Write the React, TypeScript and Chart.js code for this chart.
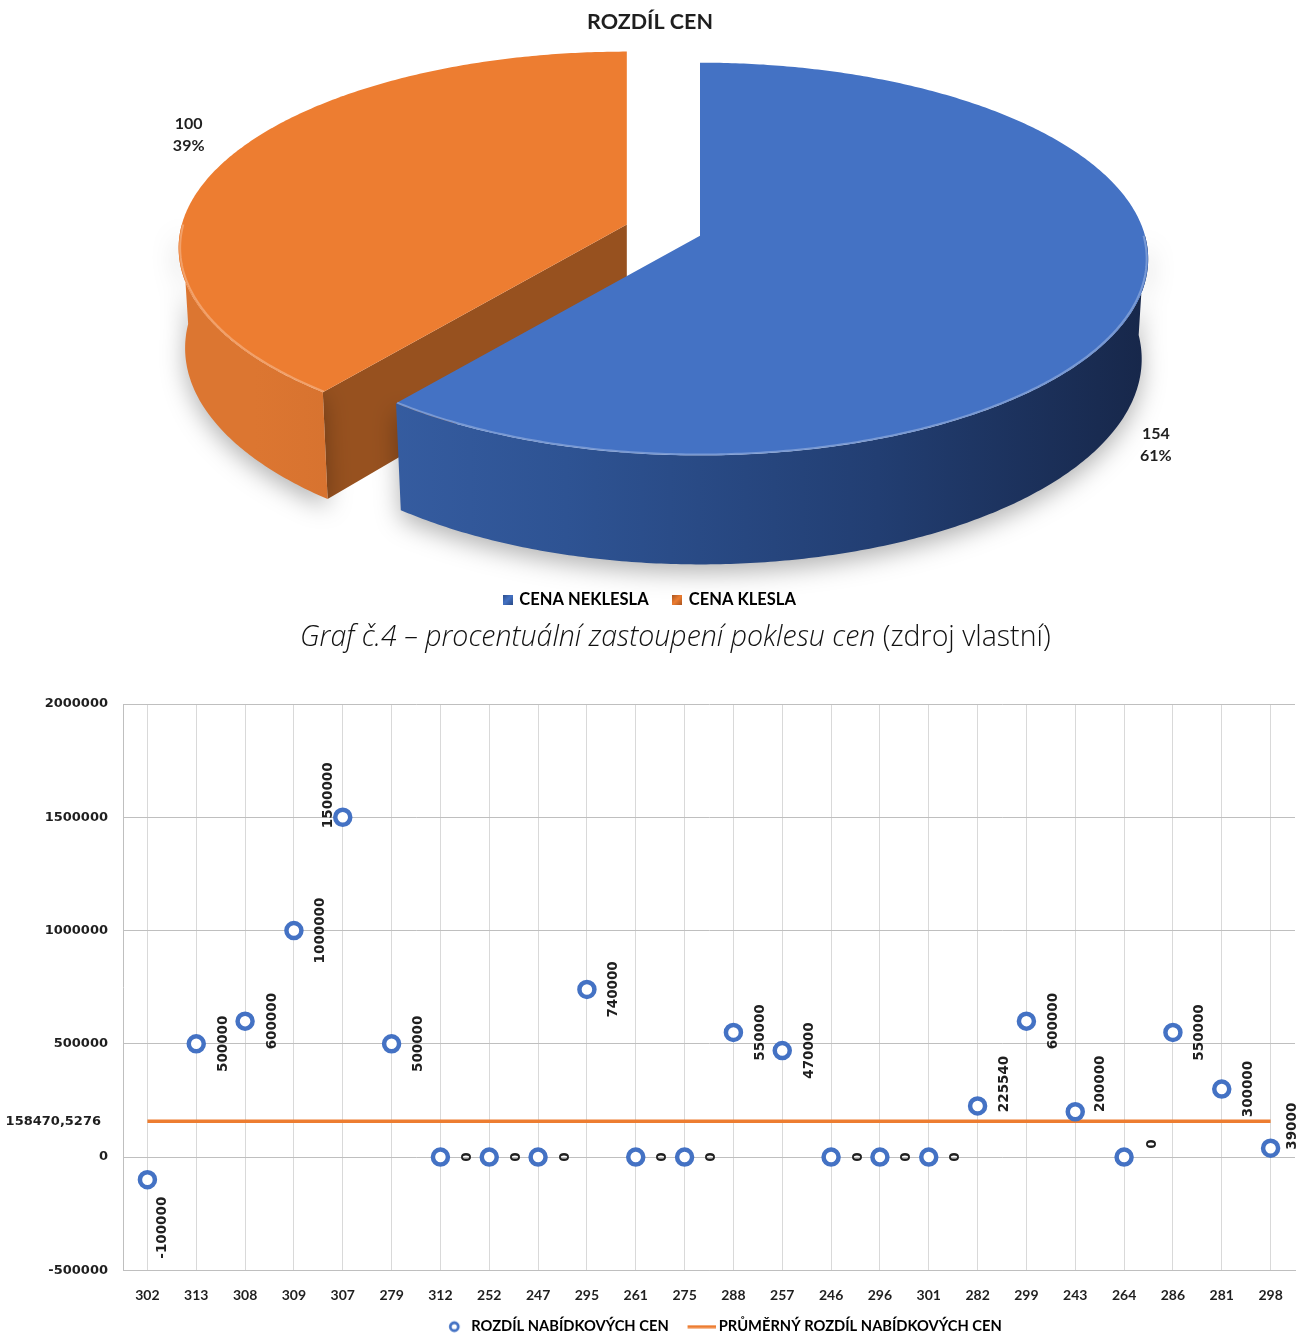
import React, { useEffect, useRef } from "react";
import { Chart, registerables } from "chart.js";

Chart.register(...registerables);

// ---- Pie: offers where the price did / did not drop ----
const PIE_TITLE = "ROZDÍL CEN";
const PIE_LABELS = ["CENA NEKLESLA", "CENA KLESLA"];
const PIE_VALUES = [154, 100];
const PIE_COLORS = ["#4472C4", "#ED7D31"];
const PIE_EXPLODE = [0, 78];

// ---- Scatter: difference of offered prices per tender ----
const TENDER_IDS = [
  "302", "313", "308", "309", "307", "279", "312", "252", "247", "295", "261", "275",
  "288", "257", "246", "296", "301", "282", "299", "243", "264", "286", "281", "298",
];
const PRICE_DIFF = [
  -100000, 500000, 600000, 1000000, 1500000, 500000, 0, 0, 0, 740000, 0, 0,
  550000, 470000, 0, 0, 0, 225540, 600000, 200000, 0, 550000, 300000, 39000,
];
const AVERAGE_DIFF = 158470.5276;
const Y_TICKS = [-500000, 0, 500000, 1000000, 1500000, 2000000];
const SERIES_NAMES = ["ROZDÍL NABÍDKOVÝCH CEN", "PRŮMĚRNÝ ROZDÍL NABÍDKOVÝCH CEN"];

const CAPTION_ITALIC = "Graf č.4 – procentuální zastoupení poklesu cen";
const CAPTION_PLAIN = "(zdroj vlastní)";

// ---- styling ----
const LABEL_FONT = 'Lato, "Liberation Sans", sans-serif';
const WIDE = '"DejaVu Sans", Verdana, sans-serif';
const INK = "#1f1f1f";

// 3D pie camera: elevation and focal distance (px), slab thickness
const SIN_PHI = 0.435;
const COS_PHI = Math.sqrt(1 - SIN_PHI * SIN_PHI);
const FOCAL = 3370;
const DEPTH = 112;
const PIE_SHIFT_X = 50;
const PIE_SHIFT_Y = -70;
const PIE_LABEL_ANCHORS = [
  { angle: 46.5, dist: 1.488 },
  { angle: 205.3, dist: 1.089 },
];
const WALL_STOPS: [number, string][][] = [
  [[0, "#3b63aa"], [0.35, "#2e5393"], [0.7, "#223e72"], [1, "#17274a"]],
  [[0, "#dc7631"], [0.35, "#c9692b"], [1, "#8f4c1e"]],
];
const CUT_COLORS = ["#1f3a6b", "#97511f"];
const SERIES_LEGEND_SHIFT = 64;
const SCATTER_W = 1307;

// nudges for crowded value labels (px)
const LABEL_NUDGE: Record<string, [number, number]> = {
  "302": [-12, 48],
  "307": [-41, -22],
  "282": [0, -22],
  "243": [-2, -28],
  "264": [1, -13],
  "298": [-5, -22],
};

const pie3d = {
  id: "pie3d",
  beforeDatasetsDraw(chart: any) {
    const ctx: CanvasRenderingContext2D = chart.ctx;
    const meta = chart.getDatasetMeta(0);
    const first = meta.data[0];
    const ox = first.x + PIE_SHIFT_X;
    const oy = first.y + PIE_SHIFT_Y;

    // perspective projection of a point on the pie plane (x right, z towards viewer, y up)
    const proj = (x: number, z: number, y: number) => {
      const up = y * COS_PHI - z * SIN_PHI;
      const dc = y * SIN_PHI + z * COS_PHI;
      const s = FOCAL / (FOCAL - dc);
      return [ox + x * s, oy - up * s];
    };

    // exploded slices are moved in screen space by the projected offset
    const slices = meta.data.map((arc: any, i: number) => {
      const off = arc.options.offset || 0;
      const mid = (arc.startAngle + arc.endAngle) / 2;
      const moved = proj(Math.cos(mid) * off, Math.sin(mid) * off, 0);
      return {
        i,
        sx: moved[0] - ox,
        sy: moved[1] - oy,
        R: arc.outerRadius,
        s: arc.startAngle,
        e: arc.endAngle,
        color: arc.options.backgroundColor,
      };
    });
    const at = (sl: any, x: number, z: number, y: number) => {
      const p = proj(x, z, y);
      return [p[0] + sl.sx, p[1] + sl.sy];
    };
    const rim = (sl: any, a: number, y: number, r = sl.R) =>
      at(sl, r * Math.cos(a), r * Math.sin(a), y);
    const trace = (sl: any, a0: number, a1: number, y: number, move: boolean, r = sl.R) => {
      const n = Math.max(2, Math.ceil(Math.abs(a1 - a0) / 0.01));
      for (let j = 0; j <= n; j++) {
        const [px, py] = rim(sl, a0 + ((a1 - a0) * j) / n, y, r);
        if (j === 0 && move) ctx.moveTo(px, py);
        else ctx.lineTo(px, py);
      }
    };

    ctx.save();
    // radial cut faces turned towards the viewer
    slices.forEach((sl: any) => {
      const faces: number[] = [];
      if (-Math.cos(sl.s) > 0.01) faces.push(sl.s);
      if (Math.cos(sl.e) > 0.01) faces.push(sl.e);
      faces.forEach((a) => {
        const ct = at(sl, 0, 0, 0);
        const cb = at(sl, 0, 0, -DEPTH);
        const et = rim(sl, a, 0);
        const eb = rim(sl, a, -DEPTH);
        ctx.beginPath();
        ctx.moveTo(ct[0], ct[1]);
        ctx.lineTo(et[0], et[1]);
        ctx.lineTo(eb[0], eb[1]);
        ctx.lineTo(cb[0], cb[1]);
        ctx.closePath();
        ctx.fillStyle = CUT_COLORS[sl.i];
        ctx.fill();
      });
    });
    // outer walls (front half of the rim)
    slices.forEach((sl: any) => {
      for (let k = -1; k <= 1; k++) {
        const a0 = Math.max(sl.s, 2 * Math.PI * k);
        const a1 = Math.min(sl.e, 2 * Math.PI * k + Math.PI);
        if (a1 <= a0) continue;
        ctx.save();
        ctx.shadowColor = "rgba(0,0,0,0.3)";
        ctx.shadowBlur = 24;
        ctx.shadowOffsetY = 8;
        ctx.beginPath();
        trace(sl, a0, a1, 0, true);
        trace(sl, a1, a0, -DEPTH, false);
        ctx.closePath();
        const g = ctx.createLinearGradient(ox - sl.R, 0, ox + sl.R, 0);
        WALL_STOPS[sl.i].forEach(([o, c]) => g.addColorStop(o, c));
        ctx.fillStyle = g;
        ctx.fill();
        ctx.restore();
      }
    });
    // top faces
    slices.forEach((sl: any) => {
      const apex = at(sl, 0, 0, 0);
      ctx.beginPath();
      ctx.moveTo(apex[0], apex[1]);
      trace(sl, sl.s, sl.e, 0, false);
      ctx.closePath();
      ctx.fillStyle = sl.color;
      ctx.fill();
      // soft rim highlight on the front edge
      const a0 = Math.max(sl.s, 0);
      const a1 = Math.min(sl.e, Math.PI);
      if (a1 > a0) {
        ctx.beginPath();
        trace(sl, a0, a1, 0, true, sl.R - 1.5);
        ctx.strokeStyle = "rgba(255,255,255,0.28)";
        ctx.lineWidth = 2;
        ctx.stroke();
      }
    });
    // value + share labels
    const total = PIE_VALUES.reduce((a, b) => a + b, 0);
    ctx.font = `bold 16px ${LABEL_FONT}`;
    ctx.fillStyle = INK;
    ctx.textAlign = "center";
    ctx.textBaseline = "middle";
    slices.forEach((sl: any) => {
      const apex = at(sl, 0, 0, 0);
      const anc = PIE_LABEL_ANCHORS[sl.i];
      const a = (anc.angle * Math.PI) / 180;
      const x = apex[0] + Math.cos(a) * anc.dist * sl.R;
      const y = apex[1] + Math.sin(a) * anc.dist * sl.R * SIN_PHI;
      const v = PIE_VALUES[sl.i];
      ctx.fillText(String(v), x, y - 11);
      ctx.fillText(`${Math.round((v / total) * 100)}%`, x, y + 11);
    });
    ctx.restore();
    return false;
  },
};

const valueLabels = {
  id: "valueLabels",
  afterLayout(chart: any) {
    // legend sits a little right of the canvas centre
    if (chart.legend) {
      chart.legend.left += SERIES_LEGEND_SHIFT;
      chart.legend.right += SERIES_LEGEND_SHIFT;
    }
  },
  afterDatasetsDraw(chart: any) {
    const ctx: CanvasRenderingContext2D = chart.ctx;
    const meta = chart.getDatasetMeta(0);
    ctx.save();
    ctx.font = `bold 13.5px ${WIDE}`;
    ctx.fillStyle = INK;
    ctx.textAlign = "center";
    ctx.textBaseline = "middle";
    meta.data.forEach((p: any, i: number) => {
      const [dx, dy] = LABEL_NUDGE[TENDER_IDS[i]] || [0, 0];
      ctx.save();
      ctx.translate(p.x + 27 + dx, p.y + dy);
      ctx.rotate(-Math.PI / 2);
      ctx.fillText(String(PRICE_DIFF[i]), 0, 0);
      ctx.restore();
    });
    ctx.font = `bold 13px ${WIDE}`;
    const y = chart.scales.y.getPixelForValue(AVERAGE_DIFF);
    ctx.textAlign = "right";
    ctx.fillText(String(AVERAGE_DIFF).replace(".", ","), chart.chartArea.left - 22, y);
    ctx.restore();
  },
};

function squareSwatch(color: string, dark: string) {
  const c = document.createElement("canvas");
  c.width = 10;
  c.height = 10;
  const g = c.getContext("2d")!;
  const grad = g.createLinearGradient(0, 0, 10, 10);
  grad.addColorStop(0, dark);
  grad.addColorStop(0.5, color);
  grad.addColorStop(1, dark);
  g.fillStyle = grad;
  g.fillRect(0, 0, 10, 10);
  return c;
}

function ringSwatch(color: string, width: number, centerX: number) {
  const c = document.createElement("canvas");
  c.width = width;
  c.height = 14;
  const g = c.getContext("2d")!;
  g.beginPath();
  g.arc(centerX, 7, 4, 0, Math.PI * 2);
  g.lineWidth = 2.8;
  g.strokeStyle = color;
  g.stroke();
  return c;
}

function lineSwatch(color: string, width: number, length: number) {
  const c = document.createElement("canvas");
  c.width = width;
  c.height = 4;
  const g = c.getContext("2d")!;
  g.fillStyle = color;
  g.fillRect(width - length, 0.5, length, 3);
  return c;
}

export default function App() {
  const pieRef = useRef<HTMLCanvasElement>(null);
  const dotRef = useRef<HTMLCanvasElement>(null);

  useEffect(() => {
    const pieMarkers = [
      squareSwatch(PIE_COLORS[0], "#2a4a86"),
      squareSwatch(PIE_COLORS[1], "#a9541f"),
    ];
    const pie = new Chart(pieRef.current!, {
      type: "pie",
      data: {
        labels: PIE_LABELS,
        datasets: [
          {
            data: PIE_VALUES,
            backgroundColor: PIE_COLORS,
            offset: PIE_EXPLODE,
            radius: 445,
            borderWidth: 0,
          } as any,
        ],
      },
      options: {
        responsive: false,
        animation: false,
        layout: { padding: 0 },
        plugins: {
          title: {
            display: true,
            text: PIE_TITLE,
            color: INK,
            font: { family: LABEL_FONT, size: 21.5, weight: "bold" },
            padding: { top: 9, bottom: 10 },
          },
          legend: {
            position: "bottom",
            labels: {
              usePointStyle: true,
              pointStyleWidth: 7,
              boxHeight: 10,
              padding: 25,
              color: INK,
              font: { family: LABEL_FONT, size: 16.5, weight: "bold" },
              generateLabels: () =>
                PIE_LABELS.map((text, i) => ({
                  text,
                  pointStyle: pieMarkers[i],
                  fillStyle: PIE_COLORS[i],
                  strokeStyle: PIE_COLORS[i],
                  lineWidth: 0,
                  hidden: false,
                  index: i,
                })) as any,
            },
          },
          tooltip: { enabled: false },
        },
      } as any,
      plugins: [pie3d],
    });

    const seriesMarkers = [
      ringSwatch(PIE_COLORS[0], 28, 18.2),
      lineSwatch(PIE_COLORS[1], 36, 28),
    ];
    const dots = new Chart(dotRef.current!, {
      type: "line",
      data: {
        labels: TENDER_IDS,
        datasets: [
          {
            label: SERIES_NAMES[0],
            data: PRICE_DIFF,
            showLine: false,
            pointStyle: "circle",
            pointRadius: 7.5,
            pointBorderWidth: 4.5,
            pointBorderColor: PIE_COLORS[0],
            pointBackgroundColor: "#ffffff",
            order: 1,
          },
          {
            label: SERIES_NAMES[1],
            data: TENDER_IDS.map(() => AVERAGE_DIFF),
            borderColor: PIE_COLORS[1],
            backgroundColor: PIE_COLORS[1],
            borderWidth: 3.5,
            pointRadius: 0,
            order: 2,
          },
        ] as any,
      },
      options: {
        responsive: false,
        animation: false,
        layout: { padding: { top: 14, left: 8, right: 5, bottom: 0 } },
        scales: {
          x: {
            offset: true,
            grid: { offset: false, color: "#d9d9d9", lineWidth: 1, drawTicks: false },
            border: { color: "#bfbfbf" },
            ticks: {
              autoSkip: false,
              maxRotation: 0,
              padding: 7,
              color: INK,
              font: { family: LABEL_FONT, size: 14, weight: "bold", lineHeight: 2.55 },
            },
            afterFit: (s: any) => {
              s.height = 34;
              s.paddingLeft = 0;
              s.paddingRight = 0;
            },
          },
          y: {
            min: Y_TICKS[0],
            max: Y_TICKS[Y_TICKS.length - 1],
            afterBuildTicks: (s: any) => {
              s.ticks = Y_TICKS.map((value) => ({ value }));
            },
            ticks: {
              padding: 15,
              color: INK,
              font: { family: WIDE, size: 13, weight: "bold" },
              callback: (v: any) => String(v),
            },
            grid: { color: "#bfbfbf", lineWidth: 1, drawTicks: false },
            border: { color: "#bfbfbf" },
            afterFit: (s: any) => {
              s.width = 115;
              s.paddingTop = 0;
              s.paddingBottom = 0;
            },
          },
        },
        plugins: {
          legend: {
            position: "bottom",
            labels: {
              usePointStyle: true,
              pointStyleWidth: 27.65,
              padding: 15,
              color: INK,
              font: { family: LABEL_FONT, size: 14.7, weight: "bold" },
              generateLabels: () =>
                SERIES_NAMES.map((text, i) => ({
                  text,
                  pointStyle: seriesMarkers[i],
                  fillStyle: "transparent",
                  strokeStyle: "transparent",
                  lineWidth: 0,
                  hidden: false,
                  datasetIndex: i,
                })) as any,
            },
          },
          tooltip: { enabled: false },
        },
      } as any,
      plugins: [valueLabels],
    });

    return () => {
      pie.destroy();
      dots.destroy();
    };
  }, []);

  return (
    <div
      style={{
        position: "absolute",
        left: 0,
        top: 0,
        width: 1300,
        height: 1336,
        overflow: "hidden",
        background: "#ffffff",
      }}
    >
      <canvas
        ref={pieRef}
        width={1300}
        height={618}
        style={{ position: "absolute", left: 0, top: 0, width: 1300, height: 618 }}
      />
      <div
        style={{
          position: "absolute",
          left: 300,
          top: 618,
          whiteSpace: "nowrap",
          fontFamily: '"Open Sans", "Noto Sans", sans-serif',
          fontWeight: 300,
          fontSize: 28.5,
          lineHeight: "34px",
          color: "#111111",
        }}
      >
        <i>{CAPTION_ITALIC}</i> {CAPTION_PLAIN}
      </div>
      <canvas
        ref={dotRef}
        width={SCATTER_W}
        height={654}
        style={{ position: "absolute", left: 0, top: 690, width: SCATTER_W, height: 654 }}
      />
    </div>
  );
}
